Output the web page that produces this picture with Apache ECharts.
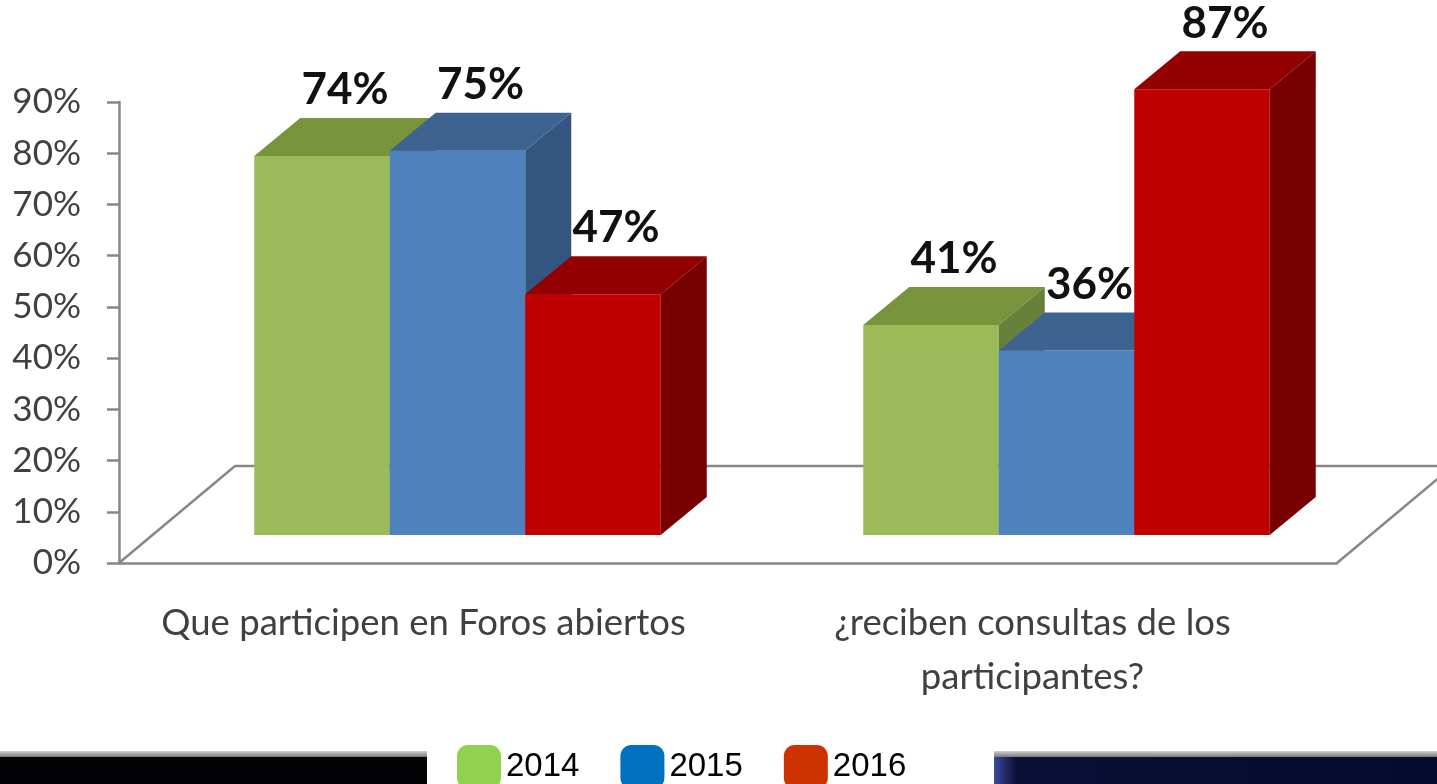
<!DOCTYPE html>
<html>
<head>
<meta charset="utf-8">
<script src="https://cdn.jsdelivr.net/npm/echarts@6/dist/echarts.min.js"></script>
<style>
html,body{margin:0;padding:0;background:#fff;}
#chart{width:1437px;height:784px;}
</style>
</head>
<body>
<div id="chart"></div>
<script>
// ---- data ----
const categories = ['Que participen en Foros abiertos', '¿reciben consultas de los\nparticipantes?'];
const years = ['2014', '2015', '2016'];
const values2014 = [74, 41];
const values2015 = [75, 36];
const values2016 = [47, 87];
const yMin = 0, yMax = 90, yStep = 10;

// ---- styles ----
const faceColors = [
  {front: '#9BBB59', top: '#77933C', side: '#67803A'},
  {front: '#4F81BD', top: '#3D6391', side: '#33557F'},
  {front: '#C00000', top: '#930000', side: '#780000'}
];
const legendColors = ['#92D050', '#0070C0', '#CC3300'];
const OX = 34, OY = -28;   // bar front plane offset (3D depth)
const DX = 46, DY = -38;   // bar depth
const FLOOR_DX = 116, FLOOR_DY = -97;
const BAR_FRAC = 0.2225;
const axisGray = '#878787';
const textGray = '#404040';

function renderBar(params, api) {
  const ci = api.value(0), v = api.value(1);
  const base = api.coord([ci, 0]);
  const topP = api.coord([ci, v]);
  const band = api.size([1, 0])[0];
  const bw = band * BAR_FRAC;
  const s = params.seriesIndex;
  const c = faceColors[s];
  const fl = base[0] + OX - 1.5 * bw + s * bw;
  const fr = fl + bw;
  const by = base[1] + OY;
  const ty = topP[1] + OY;
  return {
    type: 'group',
    children: [
      {type: 'polygon', shape: {points: [[fl, ty], [fr, ty], [fr, by], [fl, by]]}, style: {fill: c.front}},
      {type: 'polygon', shape: {points: [[fl, ty], [fr, ty], [fr + DX, ty + DY], [fl + DX, ty + DY]]}, style: {fill: c.top}},
      {type: 'polygon', shape: {points: [[fr, ty], [fr + DX, ty + DY], [fr + DX, by + DY], [fr, by]]}, style: {fill: c.side}},
      {type: 'text', z2: 10, style: {
        text: v + '%', x: fl + bw / 2 + DX / 2, y: ty + DY - 6,
        align: 'center', verticalAlign: 'bottom',
        font: 'bold 44px Lato, "Liberation Sans", sans-serif', fill: '#111'
      }}
    ]
  };
}

const seriesValues = [values2014, values2015, values2016];
const chart = echarts.init(document.getElementById('chart'));

const gridLeft = 119, gridRight = 100, gridTop = 102, gridBottom = 221;
const x0 = gridLeft, x1 = 1437 - gridRight, y0 = 784 - gridBottom;

chart.setOption({
  animation: false,
  backgroundColor: '#fff',
  grid: {left: gridLeft, right: gridRight, top: gridTop, bottom: gridBottom},
  xAxis: {
    type: 'category',
    data: categories,
    axisLine: {lineStyle: {color: axisGray, width: 2.5}},
    axisTick: {length: 10, lineStyle: {color: axisGray, width: 2.5}},
    axisLabel: {
      color: textGray, fontSize: 36.5, fontFamily: 'Lato, "Liberation Sans", sans-serif',
      lineHeight: 54, margin: 33, interval: 0
    }
  },
  yAxis: {
    type: 'value',
    min: yMin, max: yMax, interval: yStep,
    axisLine: {show: true, lineStyle: {color: axisGray, width: 2.5}},
    axisTick: {show: true, length: 12, lineStyle: {color: axisGray, width: 2.5}},
    splitLine: {show: false},
    axisLabel: {
      formatter: '{value}%', color: textGray, fontSize: 35,
      fontFamily: 'Lato, "Liberation Sans", sans-serif', margin: 38
    }
  },
  legend: {
    left: 457, top: 745, padding: 0,
    itemWidth: 44, itemHeight: 44, itemGap: 41,
    icon: 'roundRect',
    textStyle: {color: '#000', fontSize: 33, fontFamily: '"Liberation Sans", Arial, sans-serif', padding: [10, 0, 0, 0]},
    data: years.map((y, i) => ({name: y, itemStyle: {color: legendColors[i]}}))
  },
  graphic: [
    {type: 'polyline', z: 0, shape: {points: [[x0, y0], [x0 + FLOOR_DX, y0 + FLOOR_DY], [x1 + FLOOR_DX, y0 + FLOOR_DY], [x1, y0]]},
      style: {stroke: axisGray, lineWidth: 2.5, fill: null}},
    {type: 'rect', z: 0, shape: {x: 0, y: 751, width: 427, height: 6},
      style: {fill: new echarts.graphic.LinearGradient(0, 0, 0, 1, [{offset: 0, color: '#d0d0d0'}, {offset: 1, color: '#7a7a7a'}])}},
    {type: 'rect', z: 0, shape: {x: 0, y: 757, width: 427, height: 27}, style: {fill: '#030305'}},
    {type: 'rect', z: 0, shape: {x: 994, y: 751, width: 443, height: 6},
      style: {fill: new echarts.graphic.LinearGradient(0, 0, 0, 1, [{offset: 0, color: '#d0d0d0'}, {offset: 1, color: '#7a7a7a'}])}},
    {type: 'rect', z: 0, shape: {x: 994, y: 757, width: 443, height: 27},
      style: {fill: new echarts.graphic.LinearGradient(0, 0, 1, 0, [{offset: 0, color: '#3b4a9c'}, {offset: 0.05, color: '#0b0f35'}, {offset: 1, color: '#060a2e'}])}}
  ],
  series: seriesValues.map((vals, s) => ({
    name: years[s],
    type: 'custom',
    renderItem: renderBar,
    encode: {x: 0, y: 1},
    itemStyle: {color: legendColors[s]},
    data: vals.map((v, i) => [i, v])
  }))
});
</script>
</body>
</html>
